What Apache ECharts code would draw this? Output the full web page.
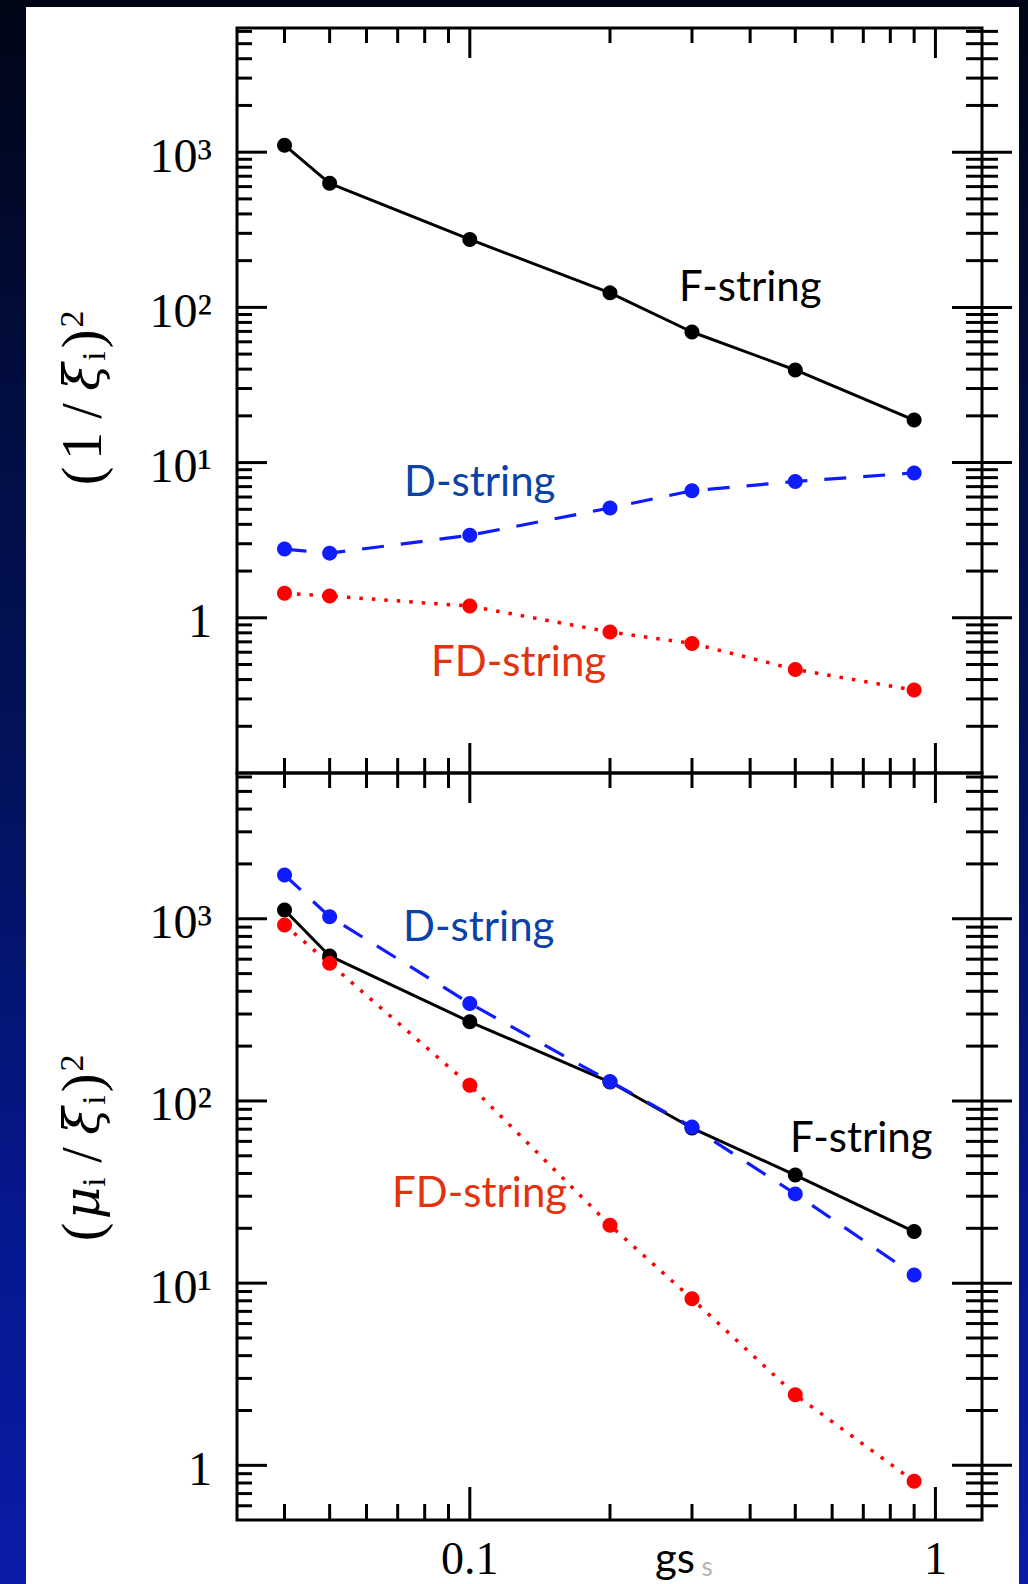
<!DOCTYPE html>
<html>
<head>
<meta charset="utf-8">
<title>gs</title>
<script src="https://cdn.jsdelivr.net/npm/echarts@6/dist/echarts.min.js"></script>
<style>
	html, body { margin: 0; padding: 0; }
	body {
		width: 1028px; height: 1584px; position: relative; overflow: hidden;
		background: linear-gradient(to bottom, #000515 0%, #020d40 25%, #03125e 50%, #05178a 75%, #0a1ca8 100%);
	}
	#paper { position: absolute; left: 26px; top: 7px; width: 993px; height: 1577px; background: #fff; }
	#main { position: absolute; left: 0; top: 0; width: 1028px; height: 1584px; }
</style>
</head>
<body>
<div id="paper"></div>
<div id="main"></div>
<script>
// 横轴 gs
var gs = [0.04, 0.05, 0.1, 0.2, 0.3, 0.5, 0.9];
// 上图 (1/xi)^2
var topF = [1110, 630, 274, 124, 69.4, 39.5, 18.8];
var topD = [2.77, 2.61, 3.40, 5.10, 6.58, 7.56, 8.58];
var topFD = [1.44, 1.38, 1.19, 0.81, 0.684, 0.465, 0.342];
// 下图 (mu/xi)^2
var bottomF = [1117, 625, 272, 127, 71, 39.2, 19.2];
var bottomD = [1739, 1026, 343, 128, 72, 30.9, 11.1];
var bottomFD = [924, 569, 122, 20.8, 8.2, 2.44, 0.817];

// 刻度
var xMajor = [0.1, 1];
var xLabels = ['0.1', '1'];
var xMinor = [0.04, 0.05, 0.06, 0.07, 0.08, 0.09, 0.2, 0.3, 0.4, 0.5, 0.6, 0.7, 0.8, 0.9];
var yMajor = [1, 10, 100, 1000];
var yLabels = ['1', '10¹', '10²', '10³'];
var yMinorTop = [0.2, 0.3, 0.4, 0.5, 0.6, 0.7, 0.8, 0.9, 2, 3, 4, 5, 6, 7, 8, 9,
	20, 30, 40, 50, 60, 70, 80, 90, 200, 300, 400, 500, 600, 700, 800, 900, 2000, 3000, 4000, 5000, 6000];
var yMinorBottom = [0.6, 0.7, 0.8, 0.9, 2, 3, 4, 5, 6, 7, 8, 9,
	20, 30, 40, 50, 60, 70, 80, 90, 200, 300, 400, 500, 600, 700, 800, 900, 2000, 3000, 4000, 5000, 6000];

var X_MIN = Math.pow(10, -1.5), X_MAX = Math.pow(10, 0.1);
var Y_MAX = Math.pow(10, 3.8);
var Y_MIN_TOP = 0.1, Y_MIN_BOTTOM = Math.pow(10, -0.3);

var SERIF = 'Liberation Serif';
var SANS = 'Lato';

var chart = echarts.init(document.getElementById('main'), null, { renderer: 'svg' });

function pairs(ys) {
	return gs.map(function(x, i) { return [x, ys[i]]; });
}

// side: 0 左轴向内, 1 右轴两侧, 2 底轴向上, 3 顶轴向下, 4 中线两侧
function yTicks(list, vals, x, len, side) {
	vals.forEach(function(v) { list.push([x, v, len, side]); });
}
function xTicks(list, vals, y, len, side) {
	vals.forEach(function(v) { list.push([v, y, len, side]); });
}

var topTicks = [];
yTicks(topTicks, yMajor, X_MIN, 30, 0);
yTicks(topTicks, yMinorTop, X_MIN, 15, 0);
yTicks(topTicks, yMajor, X_MAX, 30, 1);
yTicks(topTicks, yMinorTop, X_MAX, 16, 1);
xTicks(topTicks, xMajor, Y_MAX, 30, 3);
xTicks(topTicks, xMinor, Y_MAX, 15, 3);
xTicks(topTicks, xMajor, Y_MIN_TOP, 30, 4);
xTicks(topTicks, xMinor, Y_MIN_TOP, 15, 4);

var bottomTicks = [];
yTicks(bottomTicks, yMajor, X_MIN, 30, 0);
yTicks(bottomTicks, yMinorBottom, X_MIN, 15, 0);
yTicks(bottomTicks, yMajor, X_MAX, 30, 1);
yTicks(bottomTicks, yMinorBottom, X_MAX, 16, 1);
xTicks(bottomTicks, xMajor, Y_MIN_BOTTOM, 33, 2);
xTicks(bottomTicks, xMinor, Y_MIN_BOTTOM, 16, 2);

var topLabels = yMajor.map(function(v, i) { return [X_MIN, v, i, 0]; });
var bottomLabels = yMajor.map(function(v, i) { return [X_MIN, v, i, 0]; })
	.concat(xMajor.map(function(v, i) { return [v, Y_MIN_BOTTOM, i, 1]; }));

function renderTick(params, api) {
	var p = api.coord([api.value(0), api.value(1)]);
	var len = api.value(2), side = api.value(3);
	var x1 = p[0], y1 = p[1], x2 = p[0], y2 = p[1];
	if (side === 0) {
		x2 = p[0] + len;
	} else if (side === 1) {
		x1 = p[0] - len; x2 = p[0] + len;
	} else if (side === 2) {
		y2 = p[1] - len;
	} else if (side === 3) {
		y2 = p[1] + len;
	} else {
		y1 = p[1] - len; y2 = p[1] + len;
	}
	return {
		type: 'line',
		shape: { x1: x1, y1: y1, x2: x2, y2: y2 },
		style: { stroke: '#000', lineWidth: 3 }
	};
}

function renderLabel(params, api) {
	var p = api.coord([api.value(0), api.value(1)]);
	var idx = api.value(2);
	if (api.value(3) === 0) {
		return {
			type: 'text', x: p[0] - 25, y: p[1] + 3,
			style: { text: yLabels[idx], align: 'right', verticalAlign: 'middle', fontSize: 48, lineHeight: 44, fontFamily: SERIF, fill: '#000' }
		};
	}
	return {
		type: 'text', x: p[0], y: p[1] + 38,
		style: { text: xLabels[idx], align: 'center', verticalAlign: 'middle', fontSize: 46, lineHeight: 36, fontFamily: SERIF, fill: '#000' }
	};
}

function logAxis(grid, min, max) {
	return { type: 'log', logBase: 10, gridIndex: grid, min: min, max: max, show: false };
}

function curve(name, grid, ys, color, dash, width) {
	return {
		name: name,
		type: 'line',
		xAxisIndex: grid,
		yAxisIndex: grid,
		data: pairs(ys),
		symbol: 'circle',
		symbolSize: 15,
		itemStyle: { color: color },
		lineStyle: { color: color, width: width, type: dash },
		z: 3
	};
}

function tickSeries(grid, data) {
	return { type: 'custom', xAxisIndex: grid, yAxisIndex: grid, data: data, encode: { x: 0, y: 1 }, renderItem: renderTick, silent: true, z: 6 };
}
function labelSeries(grid, data) {
	return { type: 'custom', xAxisIndex: grid, yAxisIndex: grid, data: data, encode: { x: 0, y: 1 }, renderItem: renderLabel, silent: true, z: 6 };
}

var titleRich = {
	p: { fontSize: 56, fontFamily: SERIF, width: 30, align: 'center' },
	n: { fontSize: 56, fontFamily: SERIF, width: 30, align: 'center' },
	sl: { fontSize: 56, fontFamily: SERIF, width: 40, align: 'center' },
	g: { fontSize: 50, fontFamily: 'DejaVu Serif', fontStyle: 'italic', width: 28, align: 'center' },
	i: { fontSize: 34, fontFamily: SERIF, width: 14, align: 'center', verticalAlign: 'bottom' },
	q: { fontSize: 56, fontFamily: SERIF, width: 20, align: 'center' },
	e: { fontSize: 34, fontFamily: SERIF, width: 20, align: 'center', verticalAlign: 'top' }
};

function tag(text, x, y, color) {
	return { type: 'text', x: x, y: y, style: { text: text, fill: color, fontSize: 42, fontFamily: SANS, verticalAlign: 'middle' }, z: 10 };
}

var option = {
	backgroundColor: 'transparent',
	animation: false,
	grid: [
		{ left: 237, right: 46, top: 28, height: 745, show: true, borderColor: '#000', borderWidth: 3, backgroundColor: 'transparent', containLabel: false, outerBoundsMode: 'none' },
		{ left: 237, right: 46, top: 773, height: 747, show: true, borderColor: '#000', borderWidth: 3, backgroundColor: 'transparent', containLabel: false, outerBoundsMode: 'none' }
	],
	xAxis: [logAxis(0, X_MIN, X_MAX), logAxis(1, X_MIN, X_MAX)],
	yAxis: [logAxis(0, Y_MIN_TOP, Y_MAX), logAxis(1, Y_MIN_BOTTOM, Y_MAX)],
	series: [
		curve('F-string', 0, topF, '#000', 'solid', 3),
		curve('D-string', 0, topD, '#0f1cff', [22, 17], 3.2),
		curve('FD-string', 0, topFD, '#ff0000', [3.5, 9], 3.5),
		curve('F-string', 1, bottomF, '#000', 'solid', 3),
		curve('D-string', 1, bottomD, '#0f1cff', [22, 17], 3.2),
		curve('FD-string', 1, bottomFD, '#ff0000', [3.5, 9], 3.5),
		tickSeries(0, topTicks),
		tickSeries(1, bottomTicks),
		labelSeries(0, topLabels),
		labelSeries(1, bottomLabels)
	],
	graphic: [
		tag('F-string', 679, 285, '#000'),
		tag('D-string', 404, 480, '#0a42a6'),
		tag('FD-string', 431, 660, '#e2320e'),
		tag('D-string', 403, 925, '#0a42a6'),
		tag('F-string', 790, 1136, '#000'),
		tag('FD-string', 392, 1191, '#e2320e'),
		{
			type: 'text', x: 82, y: 400, rotation: Math.PI / 2,
			style: { text: '{p|(}{n|1}{sl|/}{g|ξ}{i|i}{q|)}{e|2}', align: 'center', verticalAlign: 'middle', fill: '#000', rich: titleRich }
		},
		{
			type: 'text', x: 82, y: 1150, rotation: Math.PI / 2,
			style: { text: '{p|(}{g|μ}{i|i}{sl|/}{g|ξ}{i|i}{q|)}{e|2}', align: 'center', verticalAlign: 'middle', fill: '#000', rich: titleRich }
		},
		{ type: 'text', x: 707, y: 1566, style: { text: 's', fill: '#b4b4b4', fontSize: 26, lineHeight: 20, fontFamily: SANS, align: 'center', verticalAlign: 'middle' }, z: 9 },
		{ type: 'text', x: 675, y: 1557, style: { text: 'gs', fill: '#000', fontSize: 42, lineHeight: 34, fontFamily: SANS, align: 'center', verticalAlign: 'middle' }, z: 10 }
	]
};

chart.setOption(option);
</script>
</body>
</html>
